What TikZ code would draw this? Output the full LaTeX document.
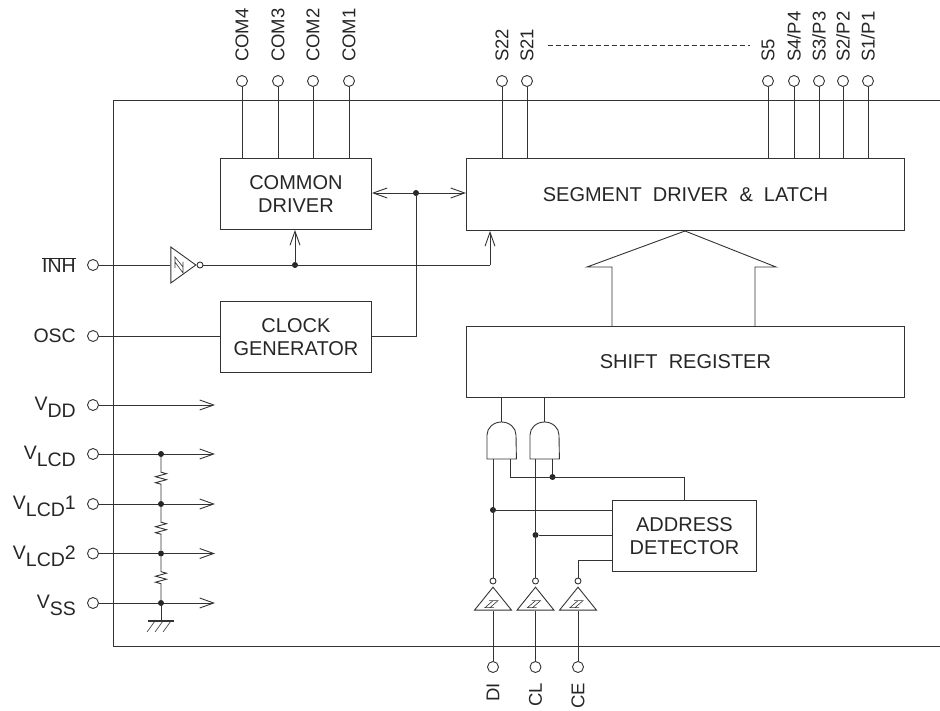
\documentclass[tikz,border=0pt]{standalone}
\usepackage{fontspec}
\setmainfont{Liberation Sans}
\usepackage{tikz}
\usetikzlibrary{calc}
\usetikzlibrary{arrows.meta}
\usetikzlibrary{shapes.geometric}
\usetikzlibrary{decorations.pathmorphing}

\newcommand{\lowtext}[1]{\raisebox{-7pt}{#1}}
\newcommand{\schmittdown}[1]{
	\draw[thin line] ($(#1.south)+(-4pt,10pt)$) -- ++(9pt,0pt) -- ++(-8pt,-7pt) ($(#1.south)+(0pt,10pt)$) -- ++(-8pt,-7pt) -- ++(9pt,0pt);
}
\newcommand{\andgate}[1]{
	\draw[wire] (#1.south west) -- ++(0pt,24pt) arc[start angle=180,end angle=0,x radius=14.5pt,y radius=13pt] -- (#1.south east) -- cycle;
}

\begin{document}
\begin{tikzpicture}[
		x=1pt,
		y=-1pt,
		every node/.style = {
			font=\fontsize{19.5}{20}\selectfont,
			text=black!85
		},
		wire/.style = {
			draw=black!80,
			line width=0.9pt
		},
		thin line/.style = {
			draw=black!80,
			line width=0.6pt
		},
		block/.style = {
			wire,
			font=\fontsize{20}{20}\selectfont,
			shape=rectangle,
			align=center,
			anchor=north west,
			inner sep=0pt
		},
		pin/.style = {
			wire,
			shape=circle,
			fill=white,
			inner sep=0pt,
			minimum size=11pt
		},
		bubble/.style = {
			wire,
			shape=circle,
			fill=white,
			inner sep=0pt,
			minimum size=6pt
		},
		joint/.style = {
			shape=circle,
			fill=black!85,
			inner sep=0pt,
			minimum size=6pt
		},
		toplabel/.style = {
			font=\fontsize{18.5}{20}\selectfont,
			rotate=90,
			anchor=west,
			inner sep=0pt
		},
		bottomlabel/.style = {
			font=\fontsize{18.5}{20}\selectfont,
			rotate=90,
			anchor=east,
			inner sep=0pt
		},
		leftlabel/.style = {
			anchor=east,
			inner sep=0pt
		},
		supplylabel/.style = {
			leftlabel,
			yshift=-2.5pt
		},
		gatebox/.style = {
			shape=rectangle,
			inner sep=0pt,
			minimum width=29pt,
			minimum height=37pt,
			anchor=south west
		},
		buffer/.style = {
			wire,
			shape=isosceles triangle,
			isosceles triangle stretches,
			shape border rotate=90,
			inner sep=0pt,
			minimum width=37pt,
			minimum height=23pt,
			anchor=apex
		},
		inverter/.style = {
			wire,
			shape=isosceles triangle,
			isosceles triangle stretches,
			inner sep=0pt,
			minimum width=36pt,
			minimum height=25pt,
			anchor=apex
		},
		small tip/.style = {
			-{Straight Barb[length=14pt,width=10pt]}
		},
		long tip/.style = {
			-{Straight Barb[length=14pt,width=10pt]}
		},
		resistor/.style = {
			wire,
			decorate,
			decoration={zigzag,amplitude=5.5pt,segment length=6pt,pre length=15pt,post length=15pt}
		}
		]
		\useasboundingbox (0,0) rectangle (940,711);

		% chip outline
		\coordinate (chipTR) at (940,100);
		\coordinate (chipTL) at (113,100);
		\coordinate (chipBL) at (113,646);
		\coordinate (chipBR) at (940,646);
		\draw[wire] (chipTR) -- (chipTL) -- (chipBL) -- (chipBR);

		% blocks
		\node[block,minimum width=151pt,minimum height=71pt] (common) at (220,158) {COMMON\\[3pt]DRIVER};
		\node[block,minimum width=151pt,minimum height=71pt] (clock) at (220,301) {CLOCK\\[3pt]GENERATOR};
		\node[block,minimum width=438pt,minimum height=72pt] (segment) at (466,158) {SEGMENT\ \ DRIVER\ \ \&\ \ LATCH};
		\node[block,minimum width=438pt,minimum height=71pt] (shift) at (466,326) {SHIFT\ \ REGISTER};
		\node[block,minimum width=144pt,minimum height=71pt] (address) at (612,500) {ADDRESS\\[3pt]DETECTOR};

		% top pins
		\foreach \name/\px/\txt in {comD/242/COM4,comC/278/COM3,comB/313/COM2,comA/349/COM1,
			segV/502/S22,segU/527/S21,segE/768/S5,segD/794/{S4/P4},segC/819/{S3/P3},segB/843/{S2/P2},segA/868/{S1/P1}}{
			\node[pin] (\name) at (\px,81) {};
			\node[toplabel] (\name text) at (\px,62) {\txt};
		}
		\foreach \name in {comD,comC,comB,comA}{
			\draw[wire] (\name) -- (\name |- common.north);
		}
		\foreach \name in {segV,segU,segE,segD,segC,segB,segA}{
			\draw[wire] (\name) -- (\name |- segment.north);
		}
		\coordinate (dashL) at (548,45);
		\coordinate (dashR) at (750,45);
		\draw[thin line,dash pattern=on 5pt off 3pt] (dashL) -- (dashR);

		% inhibit and clock
		\node[pin] (inh) at (93,265) {};
		\node[leftlabel] (inh text) at (76,265) {$\overline{\mbox{INH}}$};
		\node[inverter] (inhbuf) at (197,265) {};
		\node[bubble] (inhbub) at (200,265) {};
		\draw[thin line] (175,268) -- (175,257) -- (183,267) (175,262) -- (183,273) -- (183,262);
		\node[joint] (inhdot) at (295,265) {};
		\coordinate (inhturn) at (490,265);
		\draw[wire] (inh) -- (inhbuf.west);
		\draw[wire] (inhbub) -- (inhturn);
		\draw[wire,small tip] (inhturn) -- (inhturn |- segment.south);
		\draw[wire,small tip] (inhdot) -- (inhdot |- common.south);

		\node[pin] (osc) at (93,336) {};
		\node[leftlabel] (osc text) at (76,336) {OSC};
		\draw[wire] (osc) -- (osc -| clock.west);
		\node[joint] (busdot) at (416,193) {};
		\coordinate (busturn) at (416,336);
		\draw[wire,{Straight Barb[length=14pt,width=10pt]}-{Straight Barb[length=14pt,width=10pt]}] (busdot -| common.east) -- (busdot -| segment.west);
		\draw[wire] (busdot) -- (busturn) -- (busturn -| clock.east);

		% supply pins
		\node[pin] (vdd) at (93,405) {};
		\node[pin] (vlcd) at (93,454) {};
		\node[pin] (vlcdA) at (93,504) {};
		\node[pin] (vlcdB) at (93,553.5) {};
		\node[pin] (vss) at (93,603) {};
		\node[supplylabel] (vdd text) at (76,405) {V\lowtext{DD}};
		\node[supplylabel] (vlcd text) at (76,454) {V\lowtext{LCD}};
		\node[supplylabel] (vlcdA text) at (76,504) {V\lowtext{LCD}1};
		\node[supplylabel] (vlcdB text) at (76,553.5) {V\lowtext{LCD}2};
		\node[supplylabel] (vss text) at (76,603) {V\lowtext{SS}};
		\foreach \name/\py in {vdd/405,vlcd/454,vlcdA/504,vlcdB/553.5,vss/603}{
			\coordinate (\name end) at (215,\py);
			\draw[wire,long tip] (\name) -- (\name end);
		}
		\node[joint] (tapA) at (161,454) {};
		\node[joint] (tapB) at (161,504) {};
		\node[joint] (tapC) at (161,553.5) {};
		\node[joint] (tapD) at (161,603) {};
		\draw[resistor] (tapA) -- (tapB);
		\draw[resistor] (tapB) -- (tapC);
		\draw[resistor] (tapC) -- (tapD);
		\coordinate (ground) at (161,621);
		\draw[wire] (tapD) -- (ground);
		\draw[draw=black!80,line width=1.8pt] ($(ground)+(-13pt,0pt)$) -- ($(ground)+(13pt,0pt)$);
		\foreach \dx in {-6,2,10}{
			\draw[thin line] ($(ground)+(\dx pt,0pt)$) -- ++(-8pt,-11pt);
		}

		% big arrow
		\coordinate (arrowL) at (587,267);
		\coordinate (arrowT) at (685,231);
		\coordinate (arrowR) at (776,267);
		\coordinate (stemL) at (612,267);
		\coordinate (stemR) at (755,267);
		\draw[wire] (stemL |- shift.north) -- (stemL) -- (arrowL) -- (arrowT) -- (arrowR) -- (stemR) -- (stemR |- shift.north);

		% gates
		\node[gatebox] (gateA) at (487,459) {};
		\node[gatebox] (gateB) at (530,459) {};
		\andgate{gateA}
		\andgate{gateB}
		\coordinate (outA) at (501.5,422);
		\coordinate (outB) at (544.5,422);
		\draw[wire] (outA) -- (outA |- shift.south);
		\draw[wire] (outB) -- (outB |- shift.south);

		% input pins
		\foreach \name/\px/\txt in {di/493/DI,cl/535.5/CL,ce/578/CE}{
			\node[pin] (\name) at (\px,667) {};
			\node[bottomlabel] (\name text) at (\px,683) {\txt};
			\node[buffer] (\name buf) at (\px,586) {};
			\node[bubble] (\name bub) at (\px,581) {};
			\draw[wire] (\name) -- (\name buf.south);
			\schmittdown{\name buf}
		}
		\node[joint] (didot) at (493,510) {};
		\node[joint] (cldot) at (535.5,535) {};
		\node[joint] (gatedot) at (552.5,477) {};
		\coordinate (gateturn) at (510,477);
		\coordinate (ceturn) at (578,560);
		\draw[wire] (dibub) -- (dibub |- gateA.south);
		\draw[wire] (clbub) -- (clbub |- gateB.south);
		\draw[wire] (didot) -- (didot -| address.west);
		\draw[wire] (cldot) -- (cldot -| address.west);
		\draw[wire] (cebub) -- (ceturn) -- (ceturn -| address.west);
		\draw[wire] (gateturn |- gateA.south) -- (gateturn) -- (gateturn -| address.north) -- (address.north);
		\draw[wire] (gatedot) -- (gatedot |- gateB.south);
\end{tikzpicture}
\end{document}
